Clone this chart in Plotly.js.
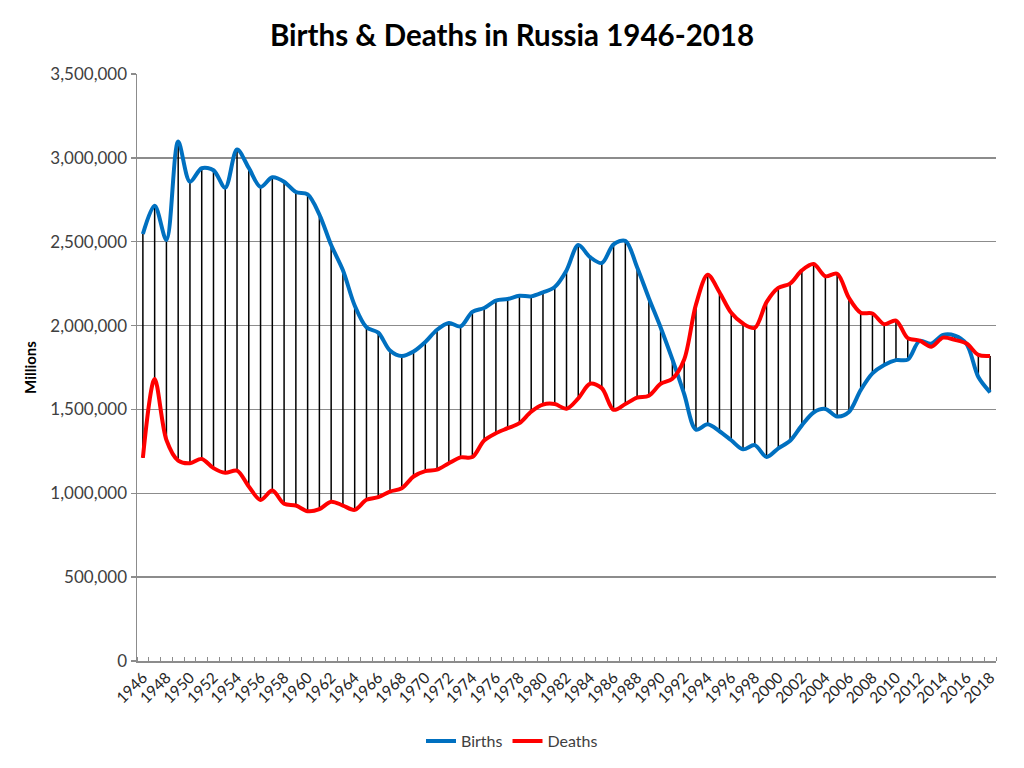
<!DOCTYPE html>
<html>
<head>
<meta charset="utf-8">
<script src="https://cdn.plot.ly/plotly-3.0.1.min.js"></script>
<style>
html,body{margin:0;padding:0;background:#fff;}
#chart{width:1024px;height:768px;}
</style>
</head>
<body>
<div id="chart"></div>
<script>
const years = [];
for (let y = 1946; y <= 2018; y++) years.push(y);

const births = [
  2546000, 2715000, 2510000, 3097000, 2858000, 2938000, 2926000, 2822000, 3050000, 2940000,
  2827000, 2884000, 2858000, 2796000, 2782000, 2662000, 2480000, 2330000, 2120000, 1990000,
  1958000, 1851000, 1818000, 1845000, 1902000, 1975000, 2015000, 1995000, 2082000, 2105000,
  2149000, 2158000, 2178000, 2174000, 2198000, 2230000, 2329000, 2480000, 2408000, 2373000,
  2484000, 2505000, 2348000, 2163000, 1989000, 1798000, 1592000, 1380000, 1412000, 1370000,
  1316000, 1262000, 1287000, 1217000, 1268000, 1313000, 1405000, 1482000, 1503000, 1458000,
  1485000, 1615000, 1715000, 1765000, 1794000, 1797000, 1908000, 1892000, 1944000, 1940000,
  1890000, 1693000, 1602000
];

const deaths = [
  1211000, 1681000, 1318000, 1195000, 1179000, 1205000, 1150000, 1122000, 1135000, 1040000,
  960000, 1016000, 937000, 927000, 893000, 905000, 950000, 927000, 901000, 961000,
  977000, 1010000, 1030000, 1100000, 1132000, 1141000, 1179000, 1214000, 1216000, 1315000,
  1358000, 1388000, 1418000, 1487000, 1529000, 1532000, 1504000, 1566000, 1653000, 1627000,
  1498000, 1532000, 1570000, 1582000, 1653000, 1683000, 1798000, 2125000, 2303000, 2199000,
  2076000, 2012000, 1986000, 2140000, 2225000, 2250000, 2329000, 2367000, 2294000, 2309000,
  2165000, 2077000, 2072000, 2008000, 2030000, 1925000, 1910000, 1874000, 1928000, 1915000,
  1893000, 1825000, 1819000
];

const yTickVals = [0, 500000, 1000000, 1500000, 2000000, 2500000, 3000000, 3500000];
const xTickVals = years.filter(y => (y - 1946) % 2 === 0);

// Drop (high-low) lines between the two series at each year
const dropX = [], dropY = [];
years.forEach((y, i) => {
  dropX.push(y, y, null);
  dropY.push(births[i], deaths[i], null);
});

const gridCol = '#8c8c8c';
const fontFam = 'Lato, "Open Sans", "Liberation Sans", sans-serif';

const traces = [
  {
    x: dropX, y: dropY, type: 'scatter', mode: 'lines',
    line: {color: '#000000', width: 1.5},
    showlegend: false, hoverinfo: 'skip'
  },
  {
    x: years, y: births, type: 'scatter', mode: 'lines', name: 'Births',
    line: {color: '#0070C0', width: 4, shape: 'spline', smoothing: 0.9}
  },
  {
    x: years, y: deaths, type: 'scatter', mode: 'lines', name: 'Deaths',
    line: {color: '#FF0000', width: 4, shape: 'spline', smoothing: 0.9}
  }
];

const layout = {
  width: 1024, height: 768,
  paper_bgcolor: '#ffffff', plot_bgcolor: '#ffffff',
  margin: {l: 137, r: 28, t: 74, b: 107},
  font: {family: fontFam, color: '#404040'},
  title: {
    text: '<b>Births & Deaths in Russia 1946-2018</b>',
    font: {family: fontFam, size: 29.5, color: '#000000'},
    x: 0.5, xanchor: 'center', y: 0.953, yanchor: 'middle'
  },
  xaxis: {
    range: [1945.5, 2018.5],
    tickmode: 'array', tickvals: xTickVals, ticktext: xTickVals.map(String),
    tickangle: -45, ticks: '', showgrid: false, zeroline: false,
    showline: true, linecolor: gridCol, linewidth: 1.5,
    tickfont: {family: fontFam, size: 15.5, color: '#262626'},
    minor: {tick0: 1945.5, dtick: 1, ticks: 'inside', ticklen: 4, tickcolor: gridCol, tickwidth: 1, showgrid: false}
  },
  yaxis: {
    range: [0, 3500000],
    tickmode: 'array', tickvals: yTickVals, tickformat: ',',
    ticks: 'outside', ticklen: 5, tickcolor: gridCol, tickwidth: 1.5,
    showgrid: true, gridcolor: gridCol, gridwidth: 1.5,
    zeroline: false, showline: true, linecolor: gridCol, linewidth: 1.5,
    tickfont: {family: fontFam, size: 17, color: '#404040'},
    title: {text: '<b>Millions</b>', font: {family: fontFam, size: 15, color: '#000000'}, standoff: 10}
  },
  legend: {
    orientation: 'h', xref: 'container', x: 0.5, xanchor: 'center',
    yref: 'container', y: 0.035, yanchor: 'middle',
    font: {family: fontFam, size: 16, color: '#404040'},
    itemwidth: 30
  },
  showlegend: true
};

Plotly.newPlot('chart', traces, layout, {displayModeBar: false, staticPlot: true});
</script>
</body>
</html>
